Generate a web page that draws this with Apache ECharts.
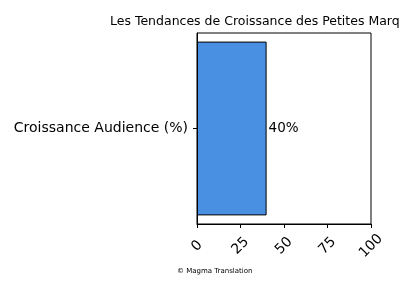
<!DOCTYPE html>
<html><head><meta charset="utf-8">
<script src="https://cdn.jsdelivr.net/npm/echarts@6/dist/echarts.min.js"></script>
<style>html,body{margin:0;padding:0;background:#fff}#c{width:400px;height:300px}</style>
</head><body><div id="c"></div>
<script>
const titleText = 'Les Tendances de Croissance des Petites Marques';
const categories = ['Croissance Audience (%)'];
const values = [40];
const xTicks = [0, 25, 50, 75, 100];
const footer = '© Magma Translation';

const chart = echarts.init(document.getElementById('c'), null, {renderer: 'canvas'});
const font = 'DejaVu Sans';
chart.setOption({
  animation: false,
  textStyle: {fontFamily: font},
  title: {
    text: titleText, left: 105, top: 10,
    textStyle: {fontFamily: font, fontSize: 12.5, fontWeight: 'normal', color: '#000'}
  },
  grid: {left: 197, right: 29, top: 33, bottom: 76, show: true, borderColor: '#000', borderWidth: 1},
  xAxis: {
    type: 'value', min: xTicks[0], max: xTicks[xTicks.length - 1], interval: 25,
    splitLine: {show: false},
    axisLine: {show: true, lineStyle: {color: '#000'}},
    axisTick: {show: true, length: 4, lineStyle: {color: '#000'}},
    axisLabel: {rotate: 45, align: 'center', verticalAlign: 'middle', margin: 22, color: '#000', fontSize: 14, fontFamily: font}
  },
  yAxis: {
    type: 'category', data: categories,
    axisLine: {show: true, lineStyle: {color: '#000'}},
    axisTick: {show: true, length: 4, alignWithLabel: true, lineStyle: {color: '#000'}},
    axisLabel: {color: '#000', fontSize: 14, fontFamily: font, margin: 9}
  },
  series: [{
    type: 'bar', data: values, barWidth: '91%',
    itemStyle: {color: '#4a90e2', borderColor: '#000', borderWidth: 1},
    label: {show: true, position: 'right', distance: 2, formatter: '{c}%', color: '#000', fontSize: 13.5, fontFamily: font}
  }],
  graphic: [{
    type: 'text', left: 177, top: 268,
    style: {text: footer, fontSize: 7, fontFamily: font, fill: '#000'}
  }]
});
</script></body></html>
